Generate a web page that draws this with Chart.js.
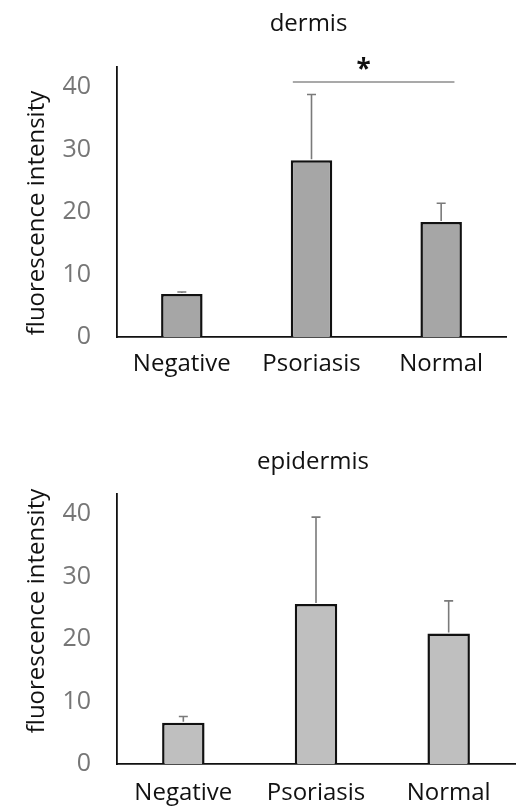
<!DOCTYPE html>
<html>
<head>
<meta charset="utf-8">
<script src="https://cdn.jsdelivr.net/npm/chart.js@4.4.0/dist/chart.umd.min.js"></script>
<style>
  html, body { margin: 0; padding: 0; background: #ffffff; }
  #wrap { position: relative; width: 520px; height: 807px; }
  .box { position: absolute; left: 0; width: 520px; }
</style>
</head>
<body>
<div id="wrap">
  <div class="box" style="top:0;height:400px"><canvas id="c1" width="520" height="400"></canvas></div>
  <div class="box" style="top:400px;height:407px"><canvas id="c2" width="520" height="407"></canvas></div>
</div>
<script>
// ---- data ----
const categories = ['Negative', 'Psoriasis', 'Normal'];
const dermisMeans = [6.9, 28.3, 18.4];
const dermisErrors = [0.3, 10.5, 3.0];
const epidermisMeans = [6.6, 25.6, 20.9];
const epidermisErrors = [1.0, 13.9, 5.2];
const yTickValues = [0, 10, 20, 30, 40];
const yMax = 43.2;
const dermisSignificance = { from: 'Psoriasis', to: 'Normal', value: 40.8, label: '*' };

const FONT = "'Open Sans', 'DejaVu Sans', sans-serif";

const overlayPlugin = {
  id: 'overlay',
  afterDatasetsDraw(chart, args, opts) {
    const ctx = chart.ctx;
    const y = chart.scales.y;
    const meta = chart.getDatasetMeta(0);
    ctx.save();
    // error bars
    ctx.strokeStyle = '#7a7a7a';
    ctx.lineWidth = 1.6;
    opts.errors.forEach((e, i) => {
      const bar = meta.data[i];
      const cx = bar.x;
      const yTop = y.getPixelForValue(opts.means[i] + e);
      const yBase = y.getPixelForValue(opts.means[i]) - 1;
      ctx.beginPath();
      ctx.moveTo(cx, yBase);
      ctx.lineTo(cx, yTop);
      ctx.moveTo(cx - 4.5, yTop);
      ctx.lineTo(cx + 4.5, yTop);
      ctx.stroke();
    });
    // significance
    if (opts.sig) {
      const s = opts.sig;
      const i1 = categories.indexOf(s.from), i2 = categories.indexOf(s.to);
      const b1 = meta.data[i1], b2 = meta.data[i2];
      const x1 = b1.x - b1.width * 0.45, x2 = b2.x + b2.width * 0.32;
      const yy = y.getPixelForValue(s.value);
      ctx.strokeStyle = '#555555';
      ctx.lineWidth = 1.2;
      ctx.beginPath();
      ctx.moveTo(x1, yy); ctx.lineTo(x2, yy); ctx.stroke();
      ctx.fillStyle = '#111111';
      ctx.font = "bold 26px " + FONT;
      ctx.textAlign = 'center';
      ctx.textBaseline = 'middle';
      ctx.fillText(s.label, (x1 + x2) / 2 - 10, yy - 11);
    }
    // chart title
    const ca = chart.chartArea;
    ctx.fillStyle = '#111111';
    ctx.font = "24px " + FONT;
    ctx.textAlign = 'center';
    ctx.textBaseline = 'middle';
    ctx.fillText(opts.title, (ca.left + ca.right) / 2 - 3, ca.top + opts.titleDy);
    // y-axis title
    ctx.save();
    ctx.translate(37, (ca.top + ca.bottom) / 2 + opts.yTitleDy);
    ctx.rotate(-Math.PI / 2);
    ctx.font = "24px " + FONT;
    ctx.fillText('fluorescence intensity', 0, 0);
    ctx.restore();
    ctx.restore();
  }
};

function makeChart(id, means, errors, fill, pad, sig, title, titleDy, yTitleDy, xHeight, xPad) {
  return new Chart(document.getElementById(id), {
    type: 'bar',
    data: {
      labels: categories,
      datasets: [{
        data: means,
        backgroundColor: fill,
        borderColor: '#111111',
        borderWidth: 2.5,
        borderSkipped: 'bottom',
        categoryPercentage: 1.0,
        barPercentage: 0.32
      }]
    },
    options: {
      responsive: false,
      animation: false,
      events: [],
      layout: { padding: pad },
      plugins: {
        legend: { display: false },
        tooltip: { enabled: false },
        title: { display: false },
        overlay: { means, errors, sig, title, titleDy, yTitleDy }
      },
      scales: {
        x: {
          grid: { display: false, drawTicks: false },
          border: { display: true, color: '#111111', width: 1.8 },
          ticks: { color: '#111111', font: { family: FONT, size: 24 }, padding: xPad },
          afterFit(s) { s.height = xHeight; }
        },
        y: {
          min: 0, max: yMax,
          grid: { display: false, drawTicks: false },
          border: { display: true, color: '#111111', width: 1.8 },
          ticks: { color: '#767676', font: { family: FONT, size: 25 }, padding: 26 },
          afterBuildTicks(s) { s.ticks = yTickValues.map(v => ({ value: v })); },
          afterFit(s) { s.width = 117; }
        }
      }
    },
    plugins: [overlayPlugin]
  });
}

makeChart('c1', dermisMeans, dermisErrors, '#a6a6a6',
  { top: 67, right: 14, left: 0, bottom: 0 }, dermisSignificance, 'dermis', -43, 11, 63, 13);
makeChart('c2', epidermisMeans, epidermisErrors, '#bfbfbf',
  { top: 94, right: 5, left: 0, bottom: 0 }, null, 'epidermis', -32, -18, 43, 15);
</script>
</body>
</html>
